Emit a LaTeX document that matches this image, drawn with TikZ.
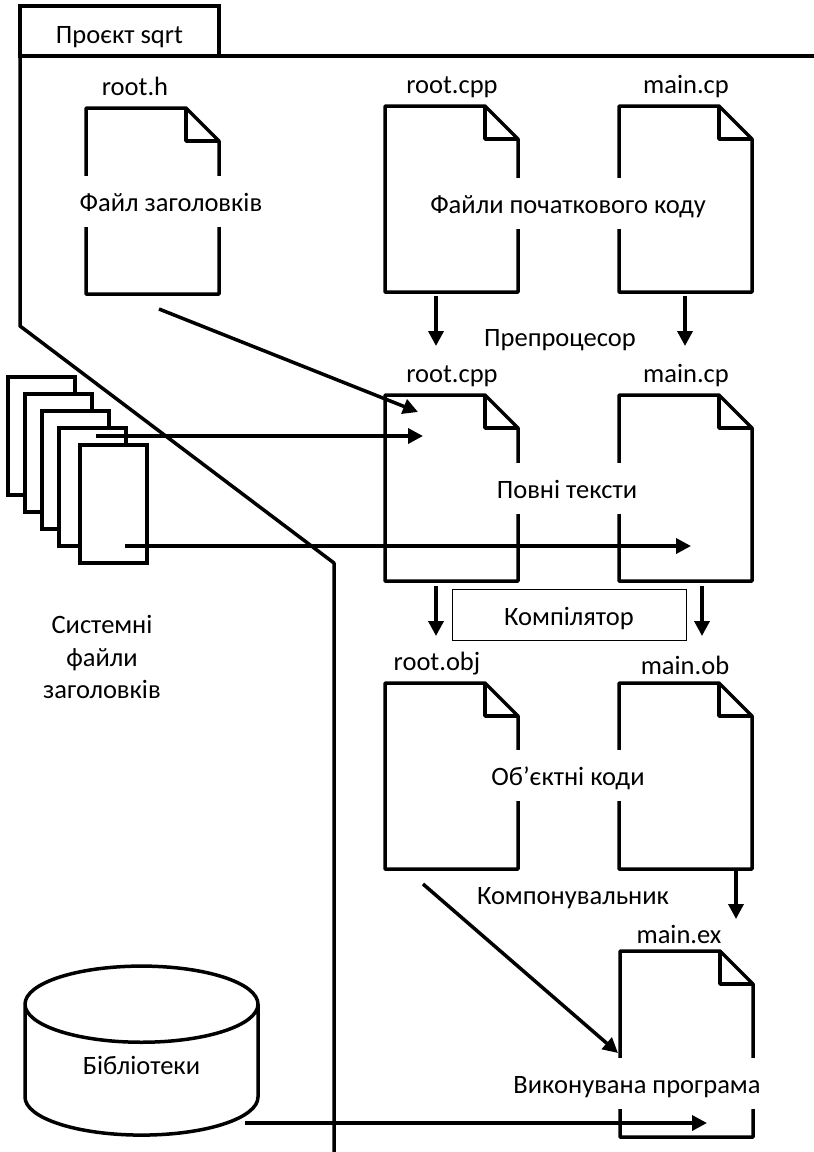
\documentclass[tikz,border=0pt]{standalone}
\usepackage{fontspec}
\setmainfont{Carlito}
\usetikzlibrary{arrows.meta,shapes.geometric,calc}
\newcommand{\filesheet}[3]{%
    \node[sheet] (#1) at (#2,#3) {};
    \draw[line] (#1.north west) -- ++(100,0) -- ++(33,33) -- (#1.south east) -- (#1.south west) -- cycle;
    \draw[line] ($(#1.north west)+(100,0)$) -- ++(0,33) -- ++(33,0);
}
\begin{document}
\begin{tikzpicture}[x=1pt, y=-1pt, >={Triangle[length=15pt, width=15pt]},
        line/.style={line width=3.5pt, line join=round},
        sheet/.style={anchor=north west, minimum width=133pt, minimum height=186pt, inner sep=0pt, outer sep=0pt},
        stacked/.style={draw, line width=3.5pt, fill=white, anchor=north west, minimum width=67pt, minimum height=118pt, inner sep=0pt, outer sep=0pt},
        caption/.style={font=\fontsize{26.5}{32}\selectfont, inner sep=0pt, text height=17pt, text depth=5pt},
        band/.style={caption, fill=white, text height=22pt, text depth=2pt, minimum height=51pt, inner xsep=1pt}]
    \useasboundingbox (0,0) rectangle (814,1152);
    % project frame
    \node[caption, draw, line width=3.5pt, text height=26pt, text depth=2pt, minimum width=199pt, minimum height=50pt, outer sep=0pt] (tab) at (119.5,31) {Проєкт sqrt};
    \coordinate (frameend) at (814,56);
    \coordinate (kneetop) at (20,326);
    \coordinate (kneelow) at (334,563);
    \coordinate (frameout) at (334,1152);
    \draw[line] (tab.south west) -- (frameend);
    \draw[line] (tab.south west) -- (kneetop) -- (kneelow) -- (frameout);
    % source files
    \filesheet{rooth}{86}{108}
    \filesheet{rootcpp}{385}{106}
    \filesheet{maincp}{619}{106}
    \node[caption] (roothname) at (135,89) {root.h};
    \node[caption] (rootcppname) at (452,87) {root.cpp};
    \node[caption] (maincpname) at (686,87) {main.cp};
    \node[band] (headerlabel) at (171,201) {Файл заголовків};
    \node[band] (sourcelabel) at (568,203) {Файли початкового коду};
    % full texts
    \filesheet{fullroot}{385}{395}
    \filesheet{fullmain}{619}{395}
    \node[caption] (fullrootname) at (452,376) {root.cpp};
    \node[caption] (fullmainname) at (686,376) {main.cp};
    \node[band] (fulllabel) at (567,488) {Повні тексти};
    \node[caption] (preproc) at (560,340) {Препроцесор};
    % object files
    \filesheet{objroot}{385}{683}
    \filesheet{objmain}{619}{683}
    \node[caption] (objrootname) at (437,664) {root.obj};
    \node[caption] (objmainname) at (685,668) {main.ob};
    \node[band] (objlabel) at (568,775) {Об’єктні коди};
    \node[caption, draw, line width=1pt, text height=24pt, text depth=2pt, minimum width=234pt, minimum height=51pt] (compiler) at (569,614.5) {Компілятор};
    \node[caption] (linker) at (573,898) {Компонувальник};
    % executable
    \filesheet{exe}{620}{951}
    \node[caption] (exename) at (679,937) {main.ex};
    \node[band] (exelabel) at (637,1083) {Виконувана програма};
    % system headers
    \node[stacked] (sys1) at (8,377) {};
    \node[stacked] (sys2) at (25,394) {};
    \node[stacked] (sys3) at (42,411) {};
    \node[stacked] (sys4) at (59,428) {};
    \node[stacked] (sys5) at (80,445) {};
    \node[caption] (sysline1) at (102,627) {Системні};
    \node[caption] (sysline2) at (102,660) {файли};
    \node[caption] (sysline3) at (102,692) {заголовків};
    % libraries
    \node[caption, cylinder, draw, line width=3.5pt, shape border rotate=90, aspect=0.65, text height=10pt, text depth=2pt, minimum width=233pt, minimum height=169pt, outer sep=0pt] (libs) at (141.5,1070.5) {Бібліотеки};
    % connectors
    \coordinate (rootincl) at (418,412);
    \coordinate (rootfrom) at (159,309);
    \coordinate (sysfrom) at (96,436);
    \coordinate (sysroot) at (423,436);
    \coordinate (sysout) at (125,546);
    \coordinate (sysmain) at (691,546);
    \coordinate (libfrom) at (245,1123);
    \coordinate (libexe) at (707,1123);
    \coordinate (objfrom) at (423,884);
    \coordinate (exein) at (618,1053);
    \draw[line, ->] (rootfrom) -- (rootincl);
    \draw[line, ->] (sysfrom) -- (sysroot);
    \draw[line, ->] (sysout) -- (sysmain);
    \draw[line, ->] (libfrom) -- (libexe);
    \draw[line, ->] (objfrom) -- (exein);
    \draw[line, ->] (436,296) -- (436,346);
    \draw[line, ->] (685,296) -- (685,346);
    \draw[line, ->] (436,586) -- (436,636);
    \draw[line, ->] (702,586) -- (702,636);
    \draw[line, ->] (736,868) -- (736,919);
\end{tikzpicture}
\end{document}
